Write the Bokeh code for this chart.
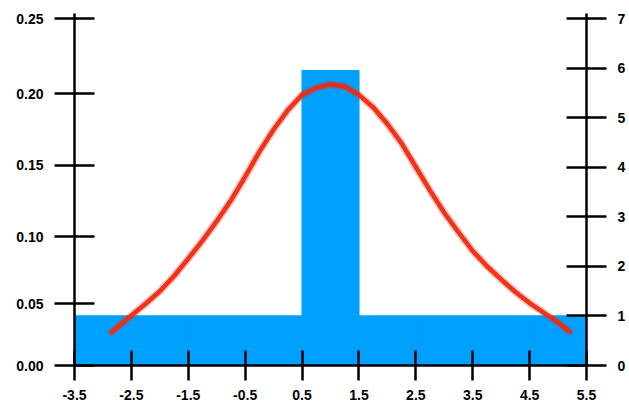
from bokeh.plotting import figure
from bokeh.models import Range1d, LinearAxis, FixedTicker
from bokeh.embed import file_html
from bokeh.resources import INLINE

# Histogram (right axis, counts)
bin_left = [-3.5, -2.5, -1.5, -0.5, 0.5, 1.5, 2.5, 3.5, 4.5]
bin_right = [-2.5, -1.5, -0.5, 0.5, 1.5, 2.5, 3.5, 4.5, 5.5]
counts = [1, 1, 1, 1, 5.95, 1, 1, 1, 1]

# Curve (left axis, density)
curve_x = [-2.85, -2.5, -2.25, -2.0, -1.75, -1.5, -1.25, -1.0, -0.75, -0.5, -0.25,
           0.0, 0.25, 0.5, 0.75, 1.0, 1.25, 1.5, 1.75, 2.0, 2.25, 2.5, 2.75,
           3.0, 3.25, 3.5, 3.75, 4.0, 4.25, 4.5, 4.75, 5.0, 5.2]
curve_y = [0.024, 0.036, 0.0445, 0.0535, 0.0645, 0.077, 0.090, 0.104, 0.119, 0.136, 0.154,
           0.170, 0.184, 0.195, 0.200, 0.2025, 0.201, 0.195, 0.186, 0.174, 0.160, 0.143, 0.126,
           0.110, 0.096, 0.0825, 0.0715, 0.062, 0.053, 0.045, 0.038, 0.031, 0.0245]

x_ticks = [-3.5, -2.5, -1.5, -0.5, 0.5, 1.5, 2.5, 3.5, 4.5, 5.5]
# left axis tick labels and where the reference places them (its spacing is uneven)
left_labels = ["0.00", "0.05", "0.10", "0.15", "0.20", "0.25"]
left_tick_pos = [0.0, 0.0445, 0.0929, 0.1441, 0.1957, 0.25]
right_ticks = [0, 1, 2, 3, 4, 5, 6, 7]

FONT = "Liberation Sans"
BLUE = "#00A0FF"
RED = "#F02A12"

ext = 352 / 347.0
p = figure(width=629, height=405, output_backend="svg", toolbar_location=None,
           x_range=Range1d(-3.5, 5.5), y_range=Range1d(0, 0.25 * ext),
           frame_width=512, frame_height=352,
           min_border_left=74, min_border_right=43, min_border_top=13, min_border_bottom=40)
p.extra_y_ranges = {"count": Range1d(0, 7 * ext)}
p.outline_line_color = None
p.xgrid.visible = False
p.ygrid.visible = False
p.background_fill_color = "white"
p.border_fill_color = "white"

p.quad(left=bin_left, right=bin_right, bottom=0, top=counts, y_range_name="count",
       fill_color=BLUE, line_color=BLUE, line_width=1.2)

p.line(curve_x, curve_y, line_color=RED, line_width=7.5, line_alpha=0.3, line_cap="round",
       line_join="round")
p.line(curve_x, curve_y, line_color=RED, line_width=4.5, line_alpha=0.95, line_cap="round",
       line_join="round")

right_axis = LinearAxis(y_range_name="count")
p.add_layout(right_axis, "right")

def style(ax, tin, tout, standoff):
    ax.axis_line_width = 2.5
    ax.axis_line_color = "black"
    ax.major_tick_line_width = 2.5
    ax.major_tick_line_color = "black"
    ax.major_tick_in = tin
    ax.major_tick_out = tout
    ax.minor_tick_line_color = None
    ax.major_label_text_font = FONT
    ax.major_label_text_font_style = "bold"
    ax.major_label_text_font_size = "14px"
    ax.major_label_text_color = "black"
    ax.major_label_standoff = standoff

style(p.xaxis[0], 15, 15, 9)
style(p.yaxis[0], 20, 20, 11)
style(right_axis, 20, 20, 11)

p.xaxis[0].ticker = FixedTicker(ticks=x_ticks)
p.xaxis[0].major_label_overrides = {t: f"{t:.1f}" for t in x_ticks}
p.yaxis[0].ticker = FixedTicker(ticks=left_tick_pos)
p.yaxis[0].major_label_overrides = dict(zip(left_tick_pos, left_labels))
right_axis.ticker = FixedTicker(ticks=right_ticks)
right_axis.major_label_overrides = {t: str(t) for t in right_ticks}

open("out.html", "w").write(file_html(p, INLINE))
